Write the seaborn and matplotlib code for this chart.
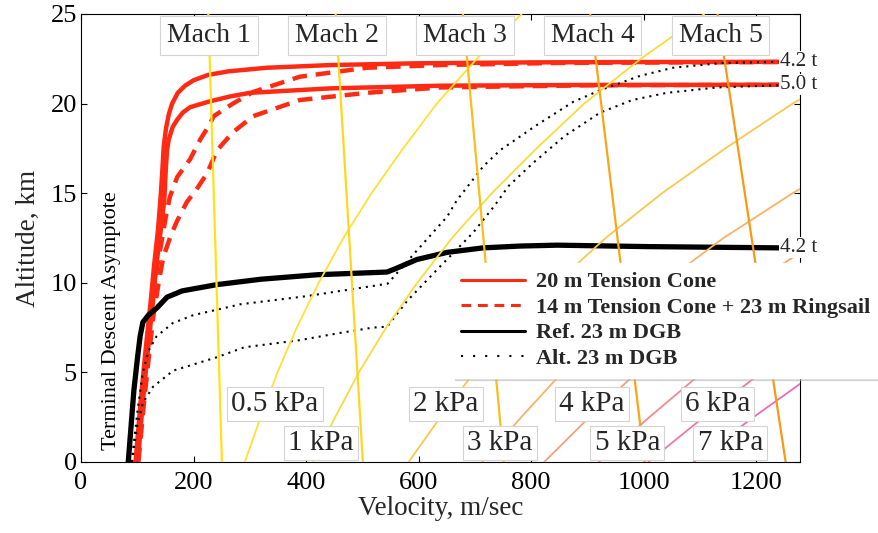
import numpy as np
import pandas as pd
import matplotlib
matplotlib.use("Agg")
import matplotlib.pyplot as plt
import seaborn as sns
from matplotlib.lines import Line2D

# ---------------------------------------------------------------- data
# Mars reference atmosphere (altitude km, density kg/m^3)
atm_alt_km = [0, 2.5, 5, 7.5, 10, 12.5, 15, 17.5, 20, 22.5, 25]
atm_density = [0.0118, 0.0098, 0.0082, 0.0068, 0.0056, 0.0046, 0.00375,
               0.00305, 0.00250, 0.00202, 0.00163]
# speed of sound (m/s) at the bottom and top of the altitude range
sound_alt_km = [0, 25]
sound_speed = [250.5, 226.3]

mach_numbers = [1, 2, 3, 4, 5]
dyn_pressure_kpa = [0.5, 1, 2, 3, 4, 5, 6, 7]

# 20 m tension cone, 4.2 t
tc_42_v = [97, 105, 114, 124, 130, 137, 142, 145, 147, 151, 156, 162, 172,
           185, 200, 226, 262, 330, 443, 600, 800, 1000, 1240]
tc_42_h = [0, 3, 6, 9, 11, 13, 15, 16.5, 17.6, 18.6, 19.4, 20.0, 20.6,
           21.0, 21.3, 21.6, 21.8, 22.0, 22.15, 22.25, 22.3, 22.32, 22.33]
# 20 m tension cone, 5.0 t
tc_50_v = [101, 109, 118, 128, 134, 142, 148, 151, 153, 156, 163, 171, 181,
           194, 226, 265, 300, 443, 640, 900, 1240]
tc_50_h = [0, 3, 6, 9, 11, 13, 14.6, 16.5, 17.4, 18.0, 18.7, 19.1, 19.5,
           19.8, 20.1, 20.4, 20.6, 20.85, 21.0, 21.04, 21.05]
# 14 m tension cone + 23 m ringsail, 4.2 t
rs_42_v = [99, 107, 116, 127, 136, 146, 152, 158, 171, 194, 212, 226, 236,
           270, 306, 389, 508, 638, 850, 1240]
rs_42_h = [0, 3, 6, 9, 11, 12.8, 13.9, 14.8, 15.9, 16.9, 18.0, 18.7, 19.3,
           20.0, 20.65, 21.5, 22.0, 22.15, 22.27, 22.32]
# 14 m tension cone + 23 m ringsail, 5.0 t
rs_50_v = [102, 111, 121, 128, 138, 146, 158, 170, 188, 205, 224, 242, 270,
           306, 389, 508, 638, 900, 1240]
rs_50_h = [0, 3, 6, 8, 10, 11.4, 12.5, 13.4, 14.5, 15.2, 16.1, 17.4, 18.4,
           19.3, 20.2, 20.6, 20.9, 21.02, 21.05]
# reference 23 m DGB, 4.2 t
dgb_ref_v = [84, 89, 94, 100, 105, 110, 120, 135, 153, 180, 242, 320, 420,
             544, 560, 597, 651, 715, 780, 846, 1006, 1240]
dgb_ref_h = [0, 2, 4, 5.7, 7.0, 7.8, 8.2, 8.6, 9.2, 9.55, 9.9, 10.2, 10.45,
             10.6, 10.8, 11.3, 11.7, 11.95, 12.05, 12.1, 12.02, 11.95]
# alternate 23 m DGB, 4.2 t
dgb_alt42_v = [90, 101, 110, 120, 134, 163, 200, 242, 283, 400, 545, 597,
               651, 668, 715, 745, 810, 875, 923, 994, 1052, 1141, 1240]
dgb_alt42_h = [0, 3, 5.0, 6.2, 7.0, 7.75, 8.2, 8.5, 8.8, 9.25, 9.95, 11.8,
               13.7, 14.6, 16.5, 17.4, 18.8, 20.1, 20.75, 21.55, 22.0, 22.27,
               22.33]
# alternate 23 m DGB, 5.0 t
dgb_alt50_v = [91, 95, 100, 110, 128, 164, 242, 290, 389, 460, 519, 544,
               580, 638, 697, 735, 760, 804, 860, 923, 980, 1041, 1130, 1219,
               1240]
dgb_alt50_h = [0, 1, 2, 3.3, 4.2, 5.1, 5.85, 6.4, 6.8, 7.2, 7.5, 7.55, 9.0,
               10.9, 12.8, 14.3, 15.4, 16.7, 18.2, 19.5, 20.2, 20.6, 20.9,
               21.0, 21.03]

legend_labels = ["20 m Tension Cone", "14 m Tension Cone + 23 m Ringsail",
                 "Ref. 23 m DGB", "Alt. 23 m DGB"]

# ---------------------------------------------------------------- style
sns.set_theme(style="ticks")
plt.rcParams["font.family"] = ["Liberation Serif", "DejaVu Serif"]
plt.rcParams["axes.linewidth"] = 0.8

RED = "#ff2a14"
mach_colors = ["#ffe11a", "#ffd61f", "#fbbd1c", "#f8a51a", "#f59a16"]
q_colors = ["#ffe033", "#fadb3c", "#f8c850", "#f5b468", "#f2a27a",
            "#f08a92", "#ee78a8", "#ea6cb8"]

fig = plt.figure(figsize=(8.79, 5.33), dpi=100)
ax = fig.add_axes([81 / 879, 1 - 462 / 533, (800 - 81) / 879, (462 - 14) / 533])

# ---------------------------------------------------------------- reference lines
alt = np.array(atm_alt_km)
rho = np.array(atm_density)
for q, col in zip(dyn_pressure_kpa, q_colors):
    v_q = np.sqrt(2.0 * q * 1000.0 / rho)
    sns.lineplot(x=v_q, y=alt, sort=False, estimator=None, ax=ax,
                 color=col, linewidth=1.3, zorder=3)

a = np.array(sound_speed)
for m, col in zip(mach_numbers, mach_colors):
    sns.lineplot(x=m * a, y=np.array(sound_alt_km), sort=False, estimator=None,
                 ax=ax, color=col, linewidth=1.6, zorder=3.1)

# ---------------------------------------------------------------- trajectories
DASH = (0, (3.3, 2.0))
DOT = (0, (1, 2.4))
traj = [
    (tc_42_v, tc_42_h, RED, "-", 3.2),
    (tc_50_v, tc_50_h, RED, "-", 3.2),
    (rs_42_v, rs_42_h, RED, DASH, 3.2),
    (rs_50_v, rs_50_h, RED, DASH, 3.2),
    (dgb_ref_v, dgb_ref_h, "black", "-", 3.8),
    (dgb_alt42_v, dgb_alt42_h, "black", DOT, 1.5),
    (dgb_alt50_v, dgb_alt50_h, "black", DOT, 1.5),
]
for v, h, col, ls, lw in traj:
    df = pd.DataFrame({"Velocity": v, "Altitude": h})
    sns.lineplot(data=df, x="Velocity", y="Altitude", sort=False,
                 estimator=None, ax=ax, color=col, linestyle=ls, linewidth=lw,
                 zorder=2)

# ---------------------------------------------------------------- axes
ax.set_xlim(0, 1278)
ax.set_ylim(0, 25)
ax.set_xticks([0, 200, 400, 600, 800, 1000, 1200])
ax.set_yticks([0, 5, 10, 15, 20, 25])
ax.tick_params(axis="both", direction="in", length=4.5, width=0.8,
               top=True, right=True, labelsize=19, colors="black")
ax.tick_params(axis="x", pad=7)
ax.tick_params(axis="y", pad=3)
for sp in ax.spines.values():
    sp.set_visible(True)
    sp.set_color("black")
    sp.set_linewidth(0.8)

ax.set_xlabel("Velocity, m/sec", fontsize=19.5)
ax.set_ylabel("Altitude, km", fontsize=19.5)
ax.xaxis.set_label_coords(0.5, -0.076)
ax.yaxis.set_label_coords(-0.0556, 0.5)

# ---------------------------------------------------------------- annotations
ax.text(55, 7.9, "Terminal Descent Asymptote", rotation=90, ha="center",
        va="center", fontsize=16, color="black", zorder=5)

label_alt = 23.8
a_label = np.interp(label_alt, sound_alt_km, sound_speed)
for m in mach_numbers:
    ax.text(m * a_label, label_alt, f"Mach {m}", ha="center", va="center",
            fontsize=20, zorder=10, clip_on=False,
            bbox=dict(boxstyle="square,pad=0.24", fc="white", ec="#d4d4d4",
                      lw=0.8))

q_label_v = [345, 427, 649, 745, 908, 971, 1131, 1154]
q_label_h = [3.24, 1.06, 3.24, 1.06, 3.24, 1.06, 3.24, 1.06]
for q, xv, yh in zip(dyn_pressure_kpa, q_label_v, q_label_h):
    ax.text(xv, yh, f"{q:g} kPa", ha="center", va="center", fontsize=21,
            zorder=10, clip_on=False,
            bbox=dict(boxstyle="square,pad=0.14", fc="white", ec="#d4d4d4",
                      lw=0.8))

for v, h, txt in [(tc_42_v, tc_42_h, "4.2 t"), (tc_50_v, tc_50_h, "5.0 t"),
                  (dgb_ref_v, dgb_ref_h, "4.2 t")]:
    ax.text(v[-1] + 3, h[-1], txt, ha="left", va="center", fontsize=15,
            zorder=10, clip_on=False,
            bbox=dict(boxstyle="square,pad=0.05", fc="white", ec="none"))

handles = [
    Line2D([], [], color=RED, lw=2.2, ls="-"),
    Line2D([], [], color=RED, lw=2.2, ls=(0, (3.2, 2.2))),
    Line2D([], [], color="black", lw=2.2, ls="-"),
    Line2D([], [], color="black", lw=1.5, ls=(0, (1, 4.8))),
]
leg = fig.legend(handles, legend_labels, loc="upper left",
                 bbox_to_anchor=(452 / 879, 1 - 263 / 533),
                 bbox_transform=fig.transFigure, borderaxespad=0,
                 prop={"weight": "bold", "size": 16}, handlelength=2.9,
                 handletextpad=0.5, borderpad=0.4, labelspacing=0.22,
                 frameon=True, fancybox=False, framealpha=1,
                 edgecolor="white", facecolor="white",
                 shadow={"color": "0.7", "alpha": 0.45})
leg.set_zorder(20)

fig.savefig("out.png", dpi=100, facecolor="white")
